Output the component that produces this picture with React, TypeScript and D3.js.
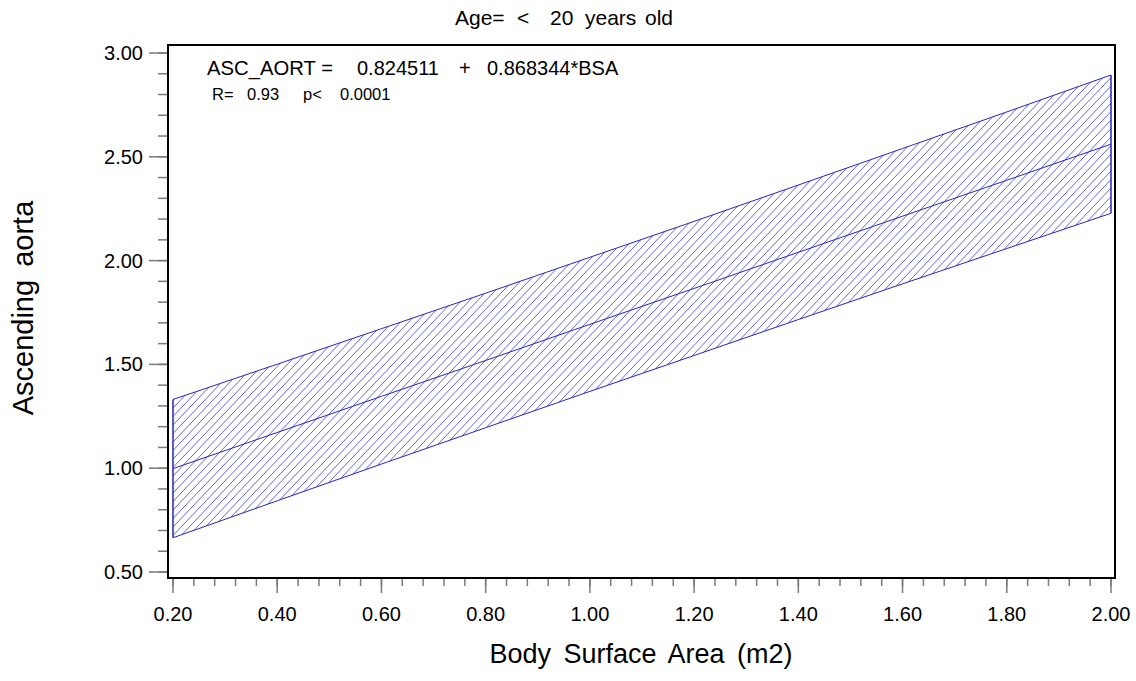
import React from 'react';
import * as d3 from 'd3';

// values
const bsa = [0.2, 0.4, 0.6, 0.8, 1.0, 1.2, 1.4, 1.6, 1.8, 2.0];
const fitted = [0.998, 1.172, 1.346, 1.519, 1.693, 1.866, 2.04, 2.214, 2.387, 2.561];
const upper = [1.331, 1.501, 1.672, 1.843, 2.016, 2.189, 2.364, 2.54, 2.716, 2.894];
const lower = [0.665, 0.843, 1.02, 1.195, 1.37, 1.543, 1.716, 1.888, 2.058, 2.228];

const xTicks = [0.2, 0.4, 0.6, 0.8, 1.0, 1.2, 1.4, 1.6, 1.8, 2.0];
const yTicks = [0.5, 1.0, 1.5, 2.0, 2.5, 3.0];

const W = 1136,
  H = 681;
const frame = { left: 168, right: 1115, top: 45, bottom: 578 };
const font = "'Liberation Sans', Arial, Helvetica, sans-serif";
const blue = '#2626c0';
const hatchBlue = '#4a4acc';
const tickColor = '#7a7a7a';
const hatchGap = 8.5; // vertical distance between hatch lines
const hatchSlope = 1.05;

export default function App() {
  const x = d3.scaleLinear().domain([0.2, 2.0]).range([173, 1111]);
  const y = d3.scaleLinear().domain([0.5, 3.0]).range([572, 53]);

  const xMinor = d3.range(0.2, 2.0001, 0.04);
  const yMinor = d3.range(0.5, 3.0001, 0.1);

  const line = d3
    .line<number>()
    .x((d, i) => x(bsa[i]))
    .y(d => y(d));

  const band = d3
    .area<number>()
    .x((d, i) => x(bsa[i]))
    .y0((d, i) => y(lower[i]))
    .y1(d => y(d));

  const last = bsa.length - 1;
  const bandPath = band(upper) || '';

  // hatch lines y + k*x = c, clipped to the band
  const cMin = y(upper[0]) + hatchSlope * x(bsa[0]);
  const cMax = y(lower[last]) + hatchSlope * x(bsa[last]);
  const hatch = d3.range(cMin - hatchGap, cMax + hatchGap, hatchGap);

  return (
    <svg width={W} height={H} style={{ position: 'absolute', left: 0, top: 0, background: '#fff' }} fontFamily={font}>
      <defs>
        <clipPath id="bandClip">
          <path d={bandPath} />
        </clipPath>
      </defs>
      <rect width={W} height={H} fill="#fff" />

      {/* title */}
      <text y={25} fontSize={21} fill="#000">
        <tspan x={455}>Age=</tspan>
        <tspan x={517}>&lt;</tspan>
        <tspan x={550}>20</tspan>
        <tspan x={585}>years</tspan>
        <tspan x={645}>old</tspan>
      </text>

      {/* band, hatch and fitted line */}
      <g clipPath="url(#bandClip)" stroke={hatchBlue} strokeWidth={0.85}>
        {hatch.map((c, i) => (
          <line key={'h' + i} x1={0} y1={c} x2={W} y2={c - hatchSlope * W} />
        ))}
      </g>
      <path d={bandPath} fill="none" stroke={blue} strokeWidth={1} />
      <path
        d={`M${x(bsa[0])},${y(upper[0])}L${x(bsa[0])},${y(lower[0])}M${x(bsa[last])},${y(upper[last])}L${x(bsa[last])},${y(lower[last])}`}
        stroke={blue}
        strokeWidth={1}
      />
      <path d={line(fitted) || ''} fill="none" stroke={blue} strokeWidth={1} />

      {/* frame */}
      <rect
        x={frame.left}
        y={frame.top}
        width={frame.right - frame.left}
        height={frame.bottom - frame.top}
        fill="none"
        stroke="#000"
        strokeWidth={2}
      />

      {/* y axis */}
      <g stroke={tickColor} strokeWidth={1.5}>
        {yMinor.map((v, i) => (
          <line key={'ym' + i} x1={frame.left - 1} x2={frame.left - 10} y1={y(v)} y2={y(v)} />
        ))}
        {yTicks.map(v => (
          <line key={'yM' + v} x1={frame.left - 1} x2={frame.left - 19} y1={y(v)} y2={y(v)} />
        ))}
      </g>
      {yTicks.map(v => (
        <text key={'yl' + v} x={143} y={y(v) + 7} fontSize={20} textAnchor="end" fill="#000">
          {d3.format('.2f')(v)}
        </text>
      ))}

      {/* x axis */}
      <g stroke={tickColor} strokeWidth={1.5}>
        {xMinor.map((v, i) => (
          <line key={'xm' + i} x1={x(v)} x2={x(v)} y1={frame.bottom + 1} y2={frame.bottom + 8} />
        ))}
        {xTicks.map(v => (
          <line key={'xM' + v} x1={x(v)} x2={x(v)} y1={frame.bottom + 1} y2={frame.bottom + 15} />
        ))}
      </g>
      {xTicks.map(v => (
        <text key={'xl' + v} x={x(v)} y={621} fontSize={20} textAnchor="middle" fill="#000">
          {d3.format('.2f')(v)}
        </text>
      ))}

      {/* annotation */}
      <text x={207} y={75} fontSize={20} fill="#000" textLength={126} lengthAdjust="spacingAndGlyphs">
        ASC_AORT =
      </text>
      <text y={75} fontSize={20} fill="#000">
        <tspan x={357}>0.824511</tspan>
        <tspan x={459}>+</tspan>
        <tspan x={487}>0.868344*BSA</tspan>
      </text>
      <text y={100} fontSize={16.5} fill="#000">
        <tspan x={212}>R=</tspan>
        <tspan x={247}>0.93</tspan>
        <tspan x={303}>p&lt;</tspan>
        <tspan x={340}>0.0001</tspan>
      </text>

      {/* axis labels */}
      <text x={641} y={663} fontSize={27} textAnchor="middle" fill="#000" style={{ wordSpacing: '5px' }}>
        Body Surface Area (m2)
      </text>
      <text
        transform="translate(33,308) rotate(-90)"
        fontSize={29}
        textAnchor="middle"
        fill="#000"
        style={{ wordSpacing: '5px' }}
      >
        Ascending aorta
      </text>
    </svg>
  );
}
